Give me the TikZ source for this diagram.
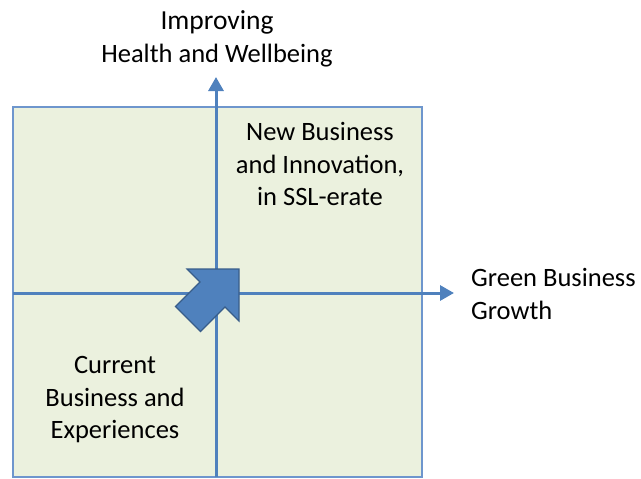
\documentclass[tikz,border=0pt]{standalone}
\usepackage{fontspec}
\setmainfont{Carlito}
\usetikzlibrary{arrows.meta}
\definecolor{panel}{RGB}{235,241,222}
\definecolor{frame}{RGB}{110,150,205}
\definecolor{axisblue}{RGB}{79,129,189}
\definecolor{darkblue}{RGB}{56,93,138}
\begin{document}
\begin{tikzpicture}[x=1pt, y=-1pt,
		label/.style={font=\fontsize{26.5}{32.5}\selectfont, inner sep=0pt},
		axis/.style={axisblue, line width=3pt, -{Triangle[length=14pt, width=15pt]}}]
		\useasboundingbox (0, 0) rectangle (641, 479);
		\draw[frame, line width=1.8pt, fill=panel] (13, 107) rectangle (422, 477);
		\coordinate (ybottom) at (216, 477);
		\coordinate (ytop) at (216, 77);
		\coordinate (xleft) at (13, 293);
		\coordinate (xright) at (454, 293);
		\draw[axis] (ybottom) -- (ytop);
		\draw[axis] (xleft) -- (xright);
		\draw[darkblue, line width=1.2pt, fill=axisblue, line join=miter]
			(175.5, 306.5) -- (200, 282) -- (187, 269) -- (239, 269) -- (239, 321)
			-- (225, 307) -- (200.5, 331.5) -- cycle;
		\node[label, align=center] (health) at (217, 39) {\fontsize{27.5}{32.5}\selectfont Improving\\Health and Wellbeing};
		\node[label, align=center] (newbiz) at (320, 164) {New Business\\and Innovation,\\in SSL-erate};
		\node[label, align=left, anchor=west] (green) at (471, 294) {Green Business\\Growth};
		\node[label, align=center] (current) at (115, 400) {Current\\Business and\\Experiences};
	\end{tikzpicture}
\end{document}
